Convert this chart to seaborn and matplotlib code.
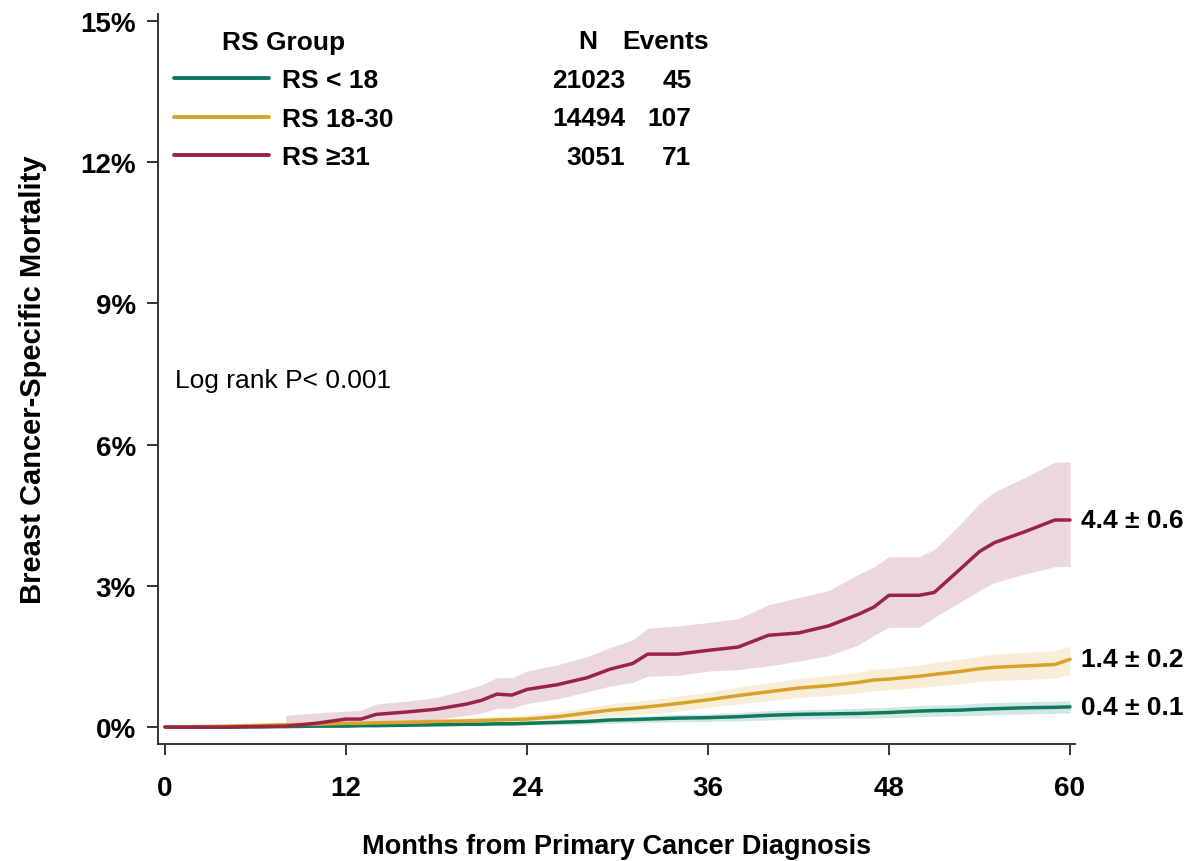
import numpy as np
import pandas as pd
import seaborn as sns
import matplotlib.pyplot as plt
from matplotlib.ticker import FuncFormatter

# months at which the curves were read
months = [0, 4, 8, 10, 12, 13, 14, 16, 18, 20, 21, 22, 23, 24, 26, 28, 29.5, 31, 32, 34,
          36, 38, 40, 42, 44, 46, 47, 48, 50, 51, 52.7, 54, 55, 57, 59, 60]

groups = ["RS < 18", "RS 18-30", "RS \u226531"]
n_patients = ["21023", "14494", "3051"]
n_events = ["45", "107", "71"]
end_labels = ["0.4 \u00b1 0.1", "1.4 \u00b1 0.2", "4.4 \u00b1 0.6"]

nan = np.nan

# cumulative mortality (%) with 95% band; nan = no band drawn yet
low_est = [0, 0, 0.01, 0.02, 0.02, 0.03, 0.03, 0.04, 0.05, 0.06, 0.06, 0.07, 0.07, 0.08, 0.1, 0.12,
           0.15, 0.16, 0.17, 0.19, 0.2, 0.22, 0.25, 0.27, 0.28, 0.29, 0.3, 0.31, 0.34, 0.35, 0.36,
           0.38, 0.39, 0.41, 0.42, 0.43]
low_lo = [nan, nan, 0, 0, 0.01, 0.01, 0.01, 0.02, 0.02, 0.03, 0.03, 0.03, 0.03, 0.04, 0.05, 0.06,
          0.08, 0.09, 0.1, 0.11, 0.12, 0.13, 0.15, 0.17, 0.18, 0.19, 0.19, 0.2, 0.22, 0.23, 0.24,
          0.25, 0.26, 0.28, 0.29, 0.3]
low_hi = [nan, nan, 0.02, 0.03, 0.04, 0.05, 0.05, 0.06, 0.08, 0.09, 0.09, 0.1, 0.11, 0.12, 0.14, 0.17,
          0.21, 0.23, 0.24, 0.27, 0.28, 0.31, 0.35, 0.37, 0.38, 0.4, 0.41, 0.42, 0.46, 0.47, 0.48,
          0.51, 0.52, 0.54, 0.55, 0.56]

mid_est = [0, 0.02, 0.05, 0.06, 0.08, 0.08, 0.09, 0.1, 0.12, 0.13, 0.14, 0.15, 0.16, 0.17, 0.22, 0.3,
           0.36, 0.4, 0.43, 0.5, 0.58, 0.67, 0.75, 0.83, 0.88, 0.95, 1.0, 1.02, 1.08, 1.12, 1.18,
           1.24, 1.27, 1.3, 1.33, 1.44]
mid_lo = [nan, 0.01, 0.02, 0.03, 0.04, 0.04, 0.04, 0.05, 0.06, 0.07, 0.07, 0.08, 0.08, 0.09, 0.12, 0.18,
          0.23, 0.26, 0.28, 0.34, 0.42, 0.49, 0.56, 0.63, 0.67, 0.73, 0.77, 0.79, 0.84, 0.87, 0.92,
          0.97, 0.99, 1.01, 1.04, 1.12]
mid_hi = [nan, 0.03, 0.08, 0.1, 0.12, 0.13, 0.14, 0.16, 0.18, 0.2, 0.21, 0.23, 0.24, 0.26, 0.32, 0.42,
          0.49, 0.54, 0.58, 0.66, 0.74, 0.85, 0.94, 1.03, 1.09, 1.17, 1.23, 1.25, 1.32, 1.37, 1.44,
          1.51, 1.55, 1.59, 1.62, 1.72]

high_est = [0, 0, 0.02, 0.08, 0.17, 0.17, 0.27, 0.32, 0.38, 0.49, 0.57, 0.7, 0.68, 0.8, 0.9, 1.05,
            1.23, 1.35, 1.55, 1.55, 1.63, 1.7, 1.95, 2.0, 2.15, 2.4, 2.55, 2.8, 2.8, 2.86, 3.35,
            3.73, 3.92, 4.15, 4.4, 4.4]
high_lo = [nan, nan, 0, 0.02, 0.05, 0.06, 0.1, 0.13, 0.17, 0.25, 0.3, 0.4, 0.4, 0.5, 0.6, 0.75,
           0.87, 0.95, 1.08, 1.1, 1.19, 1.22, 1.3, 1.4, 1.52, 1.75, 1.95, 2.12, 2.12, 2.33, 2.65,
           2.9, 3.07, 3.25, 3.41, 3.41]
high_hi = [nan, nan, 0.25, 0.3, 0.34, 0.36, 0.49, 0.55, 0.63, 0.8, 0.9, 1.05, 1.05, 1.19, 1.32, 1.5,
           1.69, 1.85, 2.1, 2.15, 2.22, 2.3, 2.6, 2.75, 2.9, 3.25, 3.4, 3.62, 3.62, 3.77, 4.3,
           4.75, 5.0, 5.3, 5.63, 5.63]

colors = ["#0e7a5c", "#d9a12b", "#9a2347"]

ests = [low_est, mid_est, high_est]
bands = [(low_lo, low_hi), (mid_lo, mid_hi), (high_lo, high_hi)]

df = pd.concat([pd.DataFrame({"month": months, "mort": e, "group": g})
                for g, e in zip(groups, ests)], ignore_index=True)

sns.set_theme(style="ticks")
plt.rcParams["font.family"] = ["Liberation Sans", "DejaVu Sans"]
for k in ["text.color", "axes.labelcolor", "xtick.labelcolor", "ytick.labelcolor"]:
    plt.rcParams[k] = "black"

fig = plt.figure(figsize=(12, 8.62), dpi=100)
ax = fig.add_axes([0.1317, 0.1357, 0.7641, 0.8469])

# confidence bands first, lines on top
for (lo, hi), c in zip(bands, colors):
    ax.fill_between(months, lo, hi, color=c, alpha=0.18, linewidth=0)

sns.lineplot(data=df, x="month", y="mort", hue="group", hue_order=groups,
             palette=colors, linewidth=2.5, ax=ax, errorbar=None)

ax.set_xlim(-0.46, 60.33)
ax.set_ylim(-0.36, 15.15)
ax.set_xticks(range(0, 61, 12))
ax.set_yticks(range(0, 16, 3))
ax.yaxis.set_major_formatter(FuncFormatter(lambda v, p: f"{v:.0f}%"))
sns.despine(ax=ax)
for s in ["left", "bottom"]:
    ax.spines[s].set_linewidth(1.4)
    ax.spines[s].set_color("#333333")
ax.tick_params(axis="both", length=8, width=1.4, color="#333333", labelsize=20)
ax.tick_params(axis="x", pad=14)
ax.tick_params(axis="y", pad=8)
for lab in ax.get_xticklabels() + ax.get_yticklabels():
    lab.set_fontweight("bold")

ax.set_xlabel("Months from Primary Cancer Diagnosis", fontsize=19.5, fontweight="bold", labelpad=23)
ax.set_ylabel("Breast Cancer-Specific Mortality", fontsize=21, fontweight="bold", labelpad=24)

sns.move_legend(ax, "upper left", bbox_to_anchor=(0.0, 1.0), borderaxespad=0.2,
                title="RS Group", frameon=False, fontsize=19, title_fontsize=19,
                handlelength=3.6, handletextpad=0.5, labelspacing=0.55)
leg = ax.get_legend()
for t in leg.get_texts():
    t.set_fontweight("bold")
leg.get_title().set_fontweight("bold")
for h in leg.get_lines():
    h.set_linewidth(2.8)

# N / Events table
ax.text(28.05, 14.58, "N", fontsize=19, fontweight="bold", ha="center", va="center")
ax.text(33.2, 14.58, "Events", fontsize=19, fontweight="bold", ha="center", va="center")
for row_y, n, ev in zip([13.75, 12.94, 12.12], n_patients, n_events):
    ax.text(30.5, row_y, n, fontsize=19, fontweight="bold", ha="right", va="center")
    ax.text(34.9, row_y, ev, fontsize=19, fontweight="bold", ha="right", va="center")

ax.text(0.66, 7.37, "Log rank P< 0.001", fontsize=19, ha="left", va="center")

for e, lab in zip(ests, end_labels):
    ax.text(60.7, e[-1], lab, fontsize=19, fontweight="bold", ha="left", va="center",
            clip_on=False)

fig.savefig("out.png", dpi=100)
